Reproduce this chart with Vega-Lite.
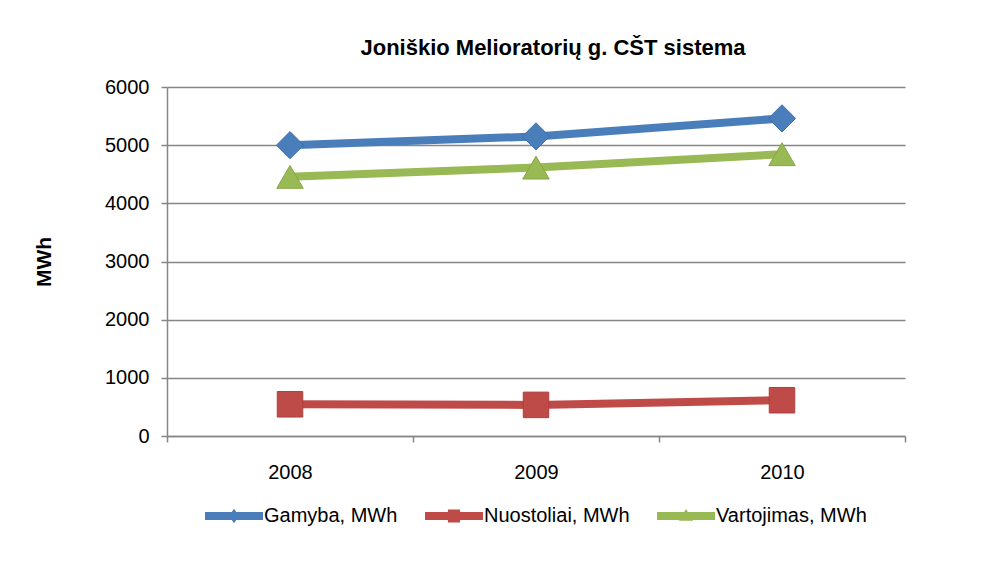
{
  "$schema": "https://vega.github.io/schema/vega-lite/v6.json",
  "width": 738,
  "height": 349,
  "autosize": {"type": "none"},
  "padding": {"left": 167, "top": 87, "right": 95, "bottom": 128},
  "background": "white",
  "config": {
    "view": {"stroke": null},
    "font": "Liberation Sans"
  },
  "title": {
    "text": "Joniškio Melioratorių g. CŠT sistema",
    "font": "Liberation Sans",
    "fontSize": 22,
    "fontWeight": "bold",
    "color": "#000000",
    "anchor": "middle",
    "frame": "group",
    "dx": 17,
    "baseline": "alphabetic",
    "offset": 0
  },
  "data": {
    "values": [
      {"year": "2008", "series": "Gamyba, MWh", "value": 5000},
      {"year": "2009", "series": "Gamyba, MWh", "value": 5150},
      {"year": "2010", "series": "Gamyba, MWh", "value": 5460},
      {"year": "2008", "series": "Nuostoliai, MWh", "value": 545},
      {"year": "2009", "series": "Nuostoliai, MWh", "value": 535},
      {"year": "2010", "series": "Nuostoliai, MWh", "value": 615},
      {"year": "2008", "series": "Vartojimas, MWh", "value": 4455},
      {"year": "2009", "series": "Vartojimas, MWh", "value": 4615},
      {"year": "2010", "series": "Vartojimas, MWh", "value": 4845}
    ]
  },
  "encoding": {
    "x": {
      "field": "year",
      "type": "ordinal",
      "scale": {"paddingInner": 0, "paddingOuter": 0},
      "axis": {
        "title": null,
        "labelAngle": 0,
        "tickBand": "extent",
        "labelFontSize": 20,
        "labelColor": "#000000",
        "labelPadding": 20,
        "tickSize": 6,
        "tickColor": "#868686",
        "tickWidth": 1.5,
        "domainColor": "#868686",
        "domainWidth": 1.5,
        "grid": false
      }
    },
    "y": {
      "field": "value",
      "type": "quantitative",
      "scale": {"domain": [0, 6000], "nice": false},
      "axis": {
        "title": "MWh",
        "titleFontSize": 21,
        "titleFontWeight": "bold",
        "titleColor": "#000000",
        "titleAngle": -90,
        "titleX": -123,
        "titleY": 174.5,
        "titleAlign": "center",
        "titleBaseline": "middle",
        "values": [0, 1000, 2000, 3000, 4000, 5000, 6000],
        "format": "d",
        "labelFontSize": 20,
        "labelColor": "#000000",
        "labelPadding": 12,
        "tickSize": 6,
        "tickColor": "#868686",
        "tickWidth": 1.5,
        "domainColor": "#868686",
        "domainWidth": 1.5,
        "gridColor": "#868686",
        "gridWidth": 1.5
      }
    },
    "color": {
      "field": "series",
      "type": "nominal",
      "scale": {
        "domain": ["Gamyba, MWh", "Nuostoliai, MWh", "Vartojimas, MWh"],
        "range": ["#4A7EBB", "#BE4B48", "#98B954"]
      },
      "legend": {
        "orient": "none",
        "legendX": 38,
        "legendY": 400,
        "direction": "horizontal",
        "title": null,
        "symbolSize": 3364,
        "symbolStrokeWidth": 0,
        "symbolOpacity": 1,
        "labelFontSize": 20,
        "labelColor": "#000000",
        "labelOffset": 1,
        "columnPadding": 27
      }
    }
  },
  "layer": [
    {
      "mark": {"type": "line", "strokeWidth": 8, "strokeCap": "round", "strokeJoin": "round"}
    },
    {
      "transform": [{"filter": "datum.series === 'Gamyba, MWh'"}],
      "mark": {"type": "point", "shape": "diamond", "filled": true, "size": 740, "opacity": 1, "stroke": "#3F6FA8", "strokeWidth": 1}
    },
    {
      "transform": [{"filter": "datum.series === 'Nuostoliai, MWh'"}],
      "mark": {"type": "point", "shape": "square", "filled": true, "size": 650, "opacity": 1, "stroke": "#B03E3B", "strokeWidth": 1}
    },
    {
      "transform": [{"filter": "datum.series === 'Vartojimas, MWh'"}],
      "mark": {"type": "point", "shape": "triangle-up", "filled": true, "size": 700, "opacity": 1, "stroke": "#86A745", "strokeWidth": 1}
    },
    {
      "mark": {"type": "point", "filled": true, "size": 3364, "opacity": 0},
      "encoding": {
        "shape": {
          "field": "series",
          "type": "nominal",
          "scale": {
            "domain": ["Gamyba, MWh", "Nuostoliai, MWh", "Vartojimas, MWh"],
            "range": [
              "M-1,-0.14H1V0.14H-1Z M-0.17,0L0,-0.25L0.17,0L0,0.25Z",
              "M-1,-0.14H1V0.14H-1Z M-0.21,-0.22H0.21V0.22H-0.21Z",
              "M-1,-0.14H1V0.14H-1Z M-0.25,0.16L0,-0.24L0.25,0.16Z"
            ]
          },
          "legend": {
            "orient": "none",
            "legendX": 38,
            "legendY": 400,
            "direction": "horizontal",
            "title": null,
            "symbolSize": 3364,
            "symbolStrokeWidth": 0,
            "symbolOpacity": 1,
            "labelFontSize": 20,
            "labelColor": "#000000",
            "labelOffset": 1,
            "columnPadding": 27
          }
        }
      }
    }
  ]
}
